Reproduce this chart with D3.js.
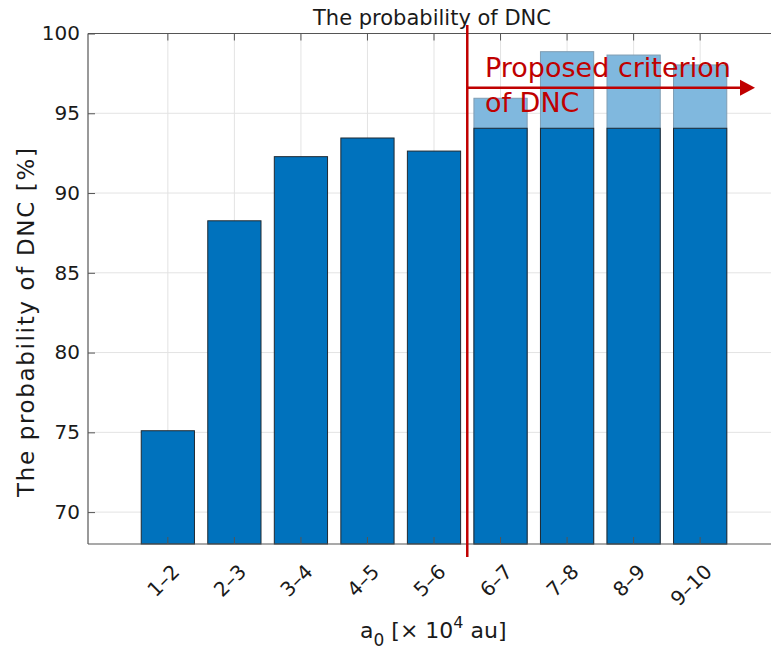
<!DOCTYPE html>
<meta charset="utf-8">
<style>
    body { margin: 0; background: #fff; overflow: hidden; }
    text { font-family: "DejaVu Sans", sans-serif; fill: #1a1a1a; }
</style>
<svg id="canvas" width="771" height="651"></svg>
<script src="https://d3js.org/d3.v7.min.js"></script>
<script>

    // a0 bins [x 10^4 au]
    var categories = ["1–2", "2–3", "3–4", "4–5", "5–6", "6–7", "7–8", "8–9", "9–10"];
    // probability of DNC [%]
    var probability = [75.1, 88.26, 92.28, 93.45, 92.63, 95.94, 98.86, 98.65, 98.03];
    // bins at or after this index are in the proposed criterion region
    var proposedFrom = 5;
    // solid part of the proposed bars
    var criterionValue = 94.06;
    var arrowLevel = 96.6;
    var yTicks = [70, 75, 80, 85, 90, 95, 100];

    var svg = d3.select("svg");

    // note: "top" is taken by window.top, so use own names
    var pLeft = 88, pTop = 33.5, pBottom = 544, pRight = 780;

    var x = d3.scaleLinear().domain([-0.2, 10.2]).range([pLeft, pRight]);
    var y = d3.scaleLinear().domain([68, 100]).range([pBottom, pTop]);
    var barW = x(0.8) - x(0);

    var dark = "#0072bd", light = "#80b8de", red = "#c00000";

    // grid
    var grid = svg.append("g").attr("class", "grid");
    grid.selectAll("line.h").data(yTicks).enter().append("line")
        .attr("x1", pLeft).attr("x2", pRight)
        .attr("y1", function(d) { return y(d); }).attr("y2", function(d) { return y(d); })
        .attr("stroke", "#e3e3e3").attr("stroke-width", 1);
    grid.selectAll("line.v").data(categories).enter().append("line")
        .attr("x1", function(d, i) { return x(i + 1); }).attr("x2", function(d, i) { return x(i + 1); })
        .attr("y1", pTop).attr("y2", pBottom)
        .attr("stroke", "#e3e3e3").attr("stroke-width", 1);

    // bars
    var bars = svg.append("g").attr("class", "bars");
    bars.selectAll("rect.full").data(probability).enter().append("rect")
        .attr("x", function(d, i) { return x(i + 1) - barW / 2; })
        .attr("y", function(d) { return y(d); })
        .attr("width", barW)
        .attr("height", function(d) { return pBottom - y(d); })
        .attr("fill", function(d, i) { return i >= proposedFrom ? light : dark; })
        .attr("stroke", function(d, i) { return i >= proposedFrom ? "#7f9db3" : "#1f2a33"; })
        .attr("stroke-width", 1);

    bars.selectAll("rect.solid").data(probability.slice(proposedFrom)).enter().append("rect")
        .attr("x", function(d, i) { return x(i + proposedFrom + 1) - barW / 2; })
        .attr("y", y(criterionValue))
        .attr("width", barW)
        .attr("height", pBottom - y(criterionValue))
        .attr("fill", dark)
        .attr("stroke", "#1f2a33").attr("stroke-width", 1);

    // axes box (top + left + bottom), ticks inward
    var axisCol = "#555";
    svg.append("line").attr("x1", pLeft).attr("x2", pRight).attr("y1", pTop).attr("y2", pTop)
        .attr("stroke", axisCol).attr("stroke-width", 1.2);
    svg.append("line").attr("x1", pLeft).attr("x2", pRight).attr("y1", pBottom).attr("y2", pBottom)
        .attr("stroke", axisCol).attr("stroke-width", 1.2);
    svg.append("line").attr("x1", pLeft).attr("x2", pLeft).attr("y1", pTop).attr("y2", pBottom)
        .attr("stroke", axisCol).attr("stroke-width", 1.2);

    var yAxis = d3.axisLeft(y).tickValues(yTicks).tickSize(-7).tickPadding(8);
    var gy = svg.append("g").attr("transform", "translate(" + pLeft + ",0)").call(yAxis);
    gy.select(".domain").remove();
    gy.selectAll(".tick line").attr("stroke", axisCol);
    gy.selectAll(".tick text").attr("font-size", 20).attr("font-family", "DejaVu Sans").attr("fill", "#1a1a1a");

    var xb = d3.scaleBand().domain(categories).range([x(0.5), x(categories.length + 0.5)]);
    var xAxis = d3.axisBottom(xb).tickSize(-7).tickFormat("");
    var gx = svg.append("g").attr("transform", "translate(0," + pBottom + ")").call(xAxis);
    gx.select(".domain").remove();
    gx.selectAll(".tick line").attr("stroke", axisCol);
    var xTop = d3.axisTop(xb).tickSize(-7).tickFormat("");
    var gt = svg.append("g").attr("transform", "translate(0," + pTop + ")").call(xTop);
    gt.select(".domain").remove();
    gt.selectAll(".tick line").attr("stroke", axisCol);

    svg.append("g").selectAll("text").data(categories).enter().append("text")
        .attr("transform", function(d) { return "translate(" + (xb(d) + xb.bandwidth() / 2 + 13) + ",573) rotate(-45)"; })
        .attr("text-anchor", "end")
        .attr("font-size", 20)
        .text(function(d) { return d; });

    // proposed criterion marker
    var xm = x(proposedFrom + 0.5);
    svg.append("line").attr("x1", xm).attr("x2", xm).attr("y1", 25).attr("y2", 557)
        .attr("stroke", red).attr("stroke-width", 2.5);
    svg.append("line").attr("x1", xm).attr("x2", 742).attr("y1", y(arrowLevel)).attr("y2", y(arrowLevel))
        .attr("stroke", red).attr("stroke-width", 2.5);
    svg.append("path")
        .attr("d", "M740," + (y(arrowLevel) - 8) + "L755," + y(arrowLevel) + "L740," + (y(arrowLevel) + 8) + "Z")
        .attr("fill", red);
    svg.append("text").attr("x", 485).attr("y", 77).attr("font-size", 27).style("fill", red)
        .text("Proposed criterion");
    svg.append("text").attr("x", 485).attr("y", 112).attr("font-size", 27).style("fill", red)
        .text("of DNC");

    // titles
    svg.append("text").attr("x", 432).attr("y", 25).attr("text-anchor", "middle").attr("font-size", 21)
        .text("The probability of DNC");

    svg.append("text").attr("transform", "translate(34,497) rotate(-90)").attr("text-anchor", "start")
        .attr("font-size", 23).attr("textLength", 349).attr("lengthAdjust", "spacing")
        .text("The probability of DNC [%]");

    var xl = svg.append("text").attr("x", 360).attr("y", 638).attr("font-size", 22);
    xl.append("tspan").text("a");
    xl.append("tspan").attr("dy", 8).attr("font-size", 17).text("0");
    xl.append("tspan").attr("dy", -8).text(" [× 10");
    xl.append("tspan").attr("dy", -10).attr("font-size", 16).text("4");
    xl.append("tspan").attr("dy", 10).text(" au]");

</script>
